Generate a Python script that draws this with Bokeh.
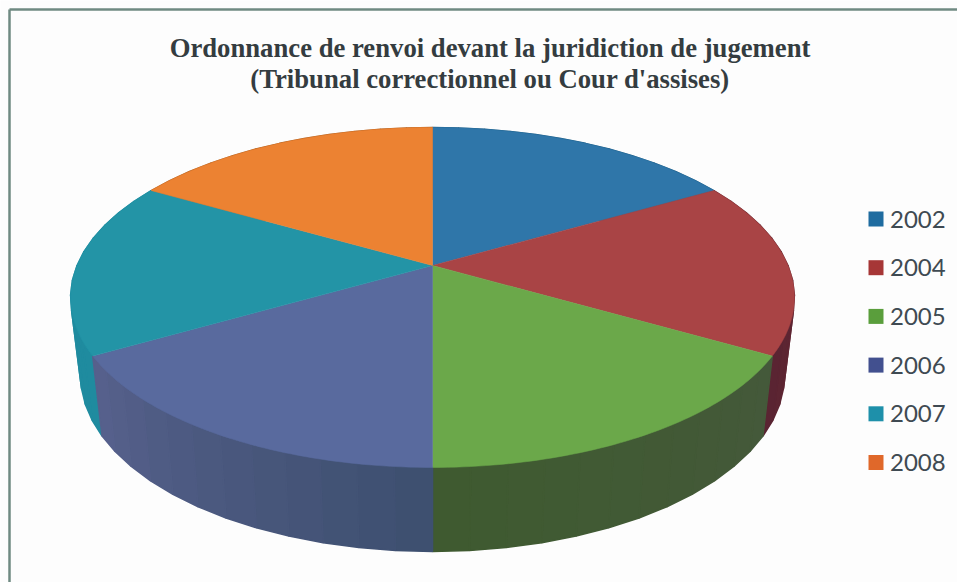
import math
from bokeh.plotting import figure
from bokeh.models import Range1d
from bokeh.core.properties import value
from bokeh.embed import file_html
from bokeh.resources import INLINE

# --- data ---
years = ["2002", "2004", "2005", "2006", "2007", "2008"]
shares = [1, 1, 1, 1, 1, 1]
title_lines = ["Ordonnance de renvoi devant la juridiction de jugement",
               "(Tribunal correctionnel ou Cour d'assises)"]

# --- styles ---
top_colors = ["#2F76A9", "#A94445", "#6BA84A", "#596A9E", "#2394A6", "#EC8232"]
swatch_colors = ["#1F6CA0", "#A63636", "#5A9E3C", "#42508F", "#1E90AA", "#E0682A"]
wall_from = ["#1F5F88", "#6E2C34", "#44593A", "#3E5070", "#1F8B9F", "#B06020"]
wall_to = ["#1F5F88", "#5A2432", "#3F5A30", "#56608C", "#1F8B9F", "#B06020"]

K = 0.188


def rim(theta, cx, apex_y, a, b):
    u, v = math.sin(theta), math.cos(theta)
    d = 1 + K * v
    return cx + b * u / d, apex_y - a * v / d


def top_pt(theta):
    return rim(theta, 432, 265, 164, 355.5)


def low_pt(theta):
    return rim(theta, 432, 341.8, 169.8, 345.7)


def mix(c1, c2, t):
    p = [int(c1[i:i + 2], 16) for i in (1, 3, 5)]
    q = [int(c2[i:i + 2], 16) for i in (1, 3, 5)]
    return "#%02x%02x%02x" % tuple(round(a + (b - a) * t) for a, b in zip(p, q))


total = sum(shares)
edges = [0.0]
for s in shares:
    edges.append(edges[-1] + 2 * math.pi * s / total)

W, H = 957, 582
p = figure(width=W, height=H, x_range=Range1d(0, W), y_range=Range1d(H, 0),
           output_backend="svg", toolbar_location=None, min_border=0,
           background_fill_color="#FDFDFD", border_fill_color="#FDFDFD", outline_line_color=None)
p.axis.visible = False
p.grid.visible = False

# frame
p.line([9, 9], [H, 9], line_color="#6F8A82", line_width=2.5)
p.line([9, W], [9, 9], line_color="#6F8A82", line_width=2.5)

# side wall, drawn as strips so that its shading varies along the rim
wx, wy, wc = [], [], []
strips = 12
for i in (0, 5, 1, 4, 2, 3):
    a0, a1 = edges[i], edges[i + 1]
    for j in range(strips):
        t0 = a0 + (a1 - a0) * j / strips
        t1 = a0 + (a1 - a0) * (j + 1) / strips
        pts = [top_pt(t0), top_pt(t1), low_pt(t1), low_pt(t0)]
        wx.append([q[0] for q in pts])
        wy.append([q[1] for q in pts])
        wc.append(mix(wall_from[i], wall_to[i], j / (strips - 1)))
p.patches(wx, wy, fill_color=wc, line_color=wc, line_width=1.5)

# top face
tx, ty = [], []
for i in range(len(shares)):
    pts = [top_pt(edges[i] + (edges[i + 1] - edges[i]) * j / 60) for j in range(61)]
    tx.append([432] + [q[0] for q in pts])
    ty.append([265] + [q[1] for q in pts])
p.patches(tx, ty, fill_color=top_colors, line_color=top_colors, line_width=0.5)

# title
p.text([489.5, 489.5], [47, 78], text=title_lines, text_align="center", text_baseline="middle",
       text_font=value("Liberation Serif"), text_font_style="bold", text_font_size="26.7px",
       text_color="#343C40")

# legend
ly = [218.5 + 48.7 * i for i in range(len(years))]
p.rect([875.5] * len(years), ly, width=15, height=15, fill_color=swatch_colors, line_color=None)
p.text([889.5] * len(years), ly, text=years, text_align="left", text_baseline="middle",
       text_font=value("Lato"), text_font_size="24px", text_color="#3F4A52")

open("out.html", "w").write(file_html(p, INLINE))
